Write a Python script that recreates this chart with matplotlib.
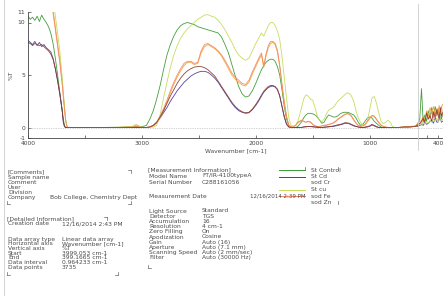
import matplotlib.pyplot as plt
from matplotlib.lines import Line2D

# wavenumber grid (cm-1), shared by all samples
wavenumber = ([4000, 3980, 3960, 3940, 3920, 3900, 3880, 3860, 3840, 3820, 3800, 3780, 3760, 3740,
               3720, 3700, 3690, 3680, 3670, 3660, 3650, 3400, 3200, 3080, 3050, 3020, 2990]
              + [2960, 2930, 2900, 2870, 2840, 2810, 2780, 2750, 2720, 2690, 2660, 2630, 2600, 2570,
                 2540, 2510, 2480, 2450, 2420, 2390, 2360, 2330, 2300, 2270, 2240, 2210, 2180, 2150,
                 2120, 2090, 2060, 2030, 2000,
                 1970, 1950, 1930, 1910, 1890, 1870, 1850, 1830, 1810, 1790, 1770, 1750, 1730, 1710]
              + [1690, 1670, 1650, 1630,
                 1600, 1580, 1560, 1540, 1520, 1500, 1480, 1460, 1440, 1420, 1400, 1380, 1360, 1340,
                 1320, 1300, 1280, 1260, 1240, 1220, 1200, 1180, 1160, 1140, 1120, 1100, 1080, 1060,
                 1040, 1020, 1000,
                 980, 960, 940, 920, 900, 880, 860, 840, 820, 800, 780,
                 750, 700, 650, 600]
              + [580, 560, 545, 530, 515, 500, 485, 470, 455, 440, 425, 410, 400, 390, 380, 370, 360])

st_control = ([10.6, 10.3, 10.5, 10.2, 10.6, 10.1, 10.7, 10.3, 10.0, 9.6, 9.0, 8.0, 6.6, 5.0, 3.3, 1.7,
               0.8, 0.2, 0.0, 0.0, 0.0, 0.0, 0.02, 0.05, 0.1, 0.05, 0.1]
              + [0.2, 0.8, 1.6, 2.7, 4.0, 5.5, 6.9, 7.9, 8.7, 9.3, 9.7, 9.9, 10.0, 9.9, 9.8, 9.6, 9.5,
                 9.4, 9.3, 9.2, 9.1, 9.0, 8.6, 7.9, 7.1, 6.0, 4.9, 3.9, 3.2, 2.9, 3.0, 3.5, 4.2,
                 5.0, 5.5, 5.9, 6.2, 6.4, 6.5, 6.5, 6.3, 5.8, 5.0, 3.6, 2.0, 0.8, 0.2]
              + [0.05, 0.0, 0.0, 0.1,
                 0.5, 0.9, 1.2, 1.35, 1.35, 1.3, 1.2, 1.0, 0.7, 0.4, 0.5, 0.9, 1.2, 1.1, 1.0, 1.0,
                 1.1, 1.3, 1.4, 1.45, 1.45, 1.4, 1.3, 1.2, 0.9, 0.5, 0.2, 0.3, 0.6, 0.9, 1.0,
                 0.9, 0.6, 0.4, 0.2, 0.05, 0.0, 0.0, 0.0, 0.0, 0.0, 0.0,
                 0.0, 0.05, 0.1, 0.1]
              + [0.3, 0.8, 3.7, 0.5, 1.2, 0.6, 1.6, 0.9, 1.9, 1.1, 2.0, 1.2, 1.8, 1.0, 1.5, 0.8, 1.2])

st_cd = ([8.3, 8.1, 7.9, 8.2, 7.8, 8.1, 7.7, 7.9, 7.6, 7.4, 7.2, 6.6, 5.6, 4.4, 3.1, 1.6,
          0.5, 0.1, 0.0, 0.0, 0.0, 0.0, 0.0, 0.0, 0.0, 0.0, 0.0]
         + [0.0, 0.05, 0.2, 0.5, 0.9, 1.4, 1.9, 2.5, 3.0, 3.5, 3.9, 4.3, 4.6, 4.9, 5.1, 5.25, 5.35,
            5.35, 5.25, 5.0, 4.7, 4.3, 3.8, 3.3, 2.8, 2.3, 1.9, 1.6, 1.45, 1.35, 1.4, 1.7, 2.1,
            2.6, 3.0, 3.35, 3.6, 3.8, 3.9, 3.95, 3.85, 3.6, 3.0, 2.0, 1.0, 0.3, 0.05]
         + [0.0, 0.0, 0.0, 0.0,
            0.0, 0.05, 0.05, 0.1, 0.1, 0.05, 0.05, 0.0, 0.0, 0.0, 0.0, 0.05, 0.05, 0.1, 0.1, 0.15,
            0.2, 0.25, 0.3, 0.4, 0.4, 0.35, 0.25, 0.15, 0.1, 0.05, 0.0, 0.0, 0.0, 0.05, 0.1,
            0.25, 0.15, 0.05, 0.0, 0.0, 0.0, 0.0, 0.0, 0.0, 0.0, 0.0,
            0.0, 0.0, 0.05, 0.1]
         + [0.1, 0.2, 0.3, 0.2, 0.5, 0.3, 0.4, 0.6, 0.7, 0.4, 0.9, 0.5, 0.5, 0.8, 1.0, 0.5, 0.6])

sod_cr = ([14, 14, 14, 14, 14, 14, 14, 14, 14, 14, 12.5, 11.2, 9.6, 8.0, 6.4, 4.4,
           3.2, 1.9, 0.8, 0.2, 0.0, 0.0, 0.02, 0.1, 0.25, 0.1, 0.0]
          + [0.0, 0.05, 0.15, 0.4, 0.9, 1.6, 2.4, 3.3, 4.1, 4.8, 5.4, 5.9, 6.2, 6.2, 6.0, 6.1, 7.1,
             7.7, 7.9, 7.7, 7.5, 7.2, 6.8, 6.2, 5.6, 5.0, 4.6, 4.3, 4.05, 3.95, 4.3, 5.1, 5.8,
             6.5, 6.9, 5.7, 6.8, 7.6, 8.0, 8.1, 7.9, 7.2, 5.8, 4.0, 2.3, 1.0, 0.2]
          + [0.05, 0.05, 0.2, 0.45,
             0.65, 0.6, 0.5, 0.55, 0.5, 0.3, 0.15, 0.1, 0.1, 0.15, 0.2, 0.2, 0.3, 0.35, 0.4, 0.55,
             0.75, 0.9, 1.05, 1.2, 1.3, 1.25, 1.05, 0.7, 0.4, 0.2, 0.1, 0.15, 0.3, 0.55, 0.85,
             1.1, 1.05, 0.75, 0.45, 0.2, 0.1, 0.05, 0.0, 0.0, 0.0, 0.0,
             0.0, 0.05, 0.1, 0.1]
          + [0.4, 0.6, 0.6, 1.1, 0.7, 1.6, 1.0, 1.9, 1.3, 2.0, 1.2, 1.8, 1.4, 2.1, 1.6, 1.9, 2.2])

st_cu = ([14, 14, 14, 14, 14, 14, 14, 14, 14, 14, 14, 12.8, 10.6, 9.0, 7.2, 4.8,
          3.4, 2.0, 0.8, 0.2, 0.0, 0.0, 0.02, 0.1, 0.3, 0.1, 0.0]
         + [0.0, 0.0, 0.05, 0.2, 1.2, 2.8, 4.3, 5.7, 6.9, 7.8, 8.5, 9.0, 9.4, 9.7, 10.0, 10.3, 10.5,
            10.7, 10.75, 10.6, 10.5, 10.2, 9.8, 9.3, 8.7, 8.1, 7.4, 6.9, 6.6, 6.4, 6.6, 7.3, 8.0,
            8.6, 9.0, 8.7, 9.2, 9.7, 10.0, 10.0, 9.7, 9.2, 8.4, 6.8, 4.8, 2.8, 0.9]
         + [0.2, 0.15, 0.2, 0.6,
            1.8, 2.7, 3.1, 3.0, 2.7, 2.6, 1.9, 1.1, 0.7, 0.55, 0.8, 1.3, 1.65, 1.8, 1.9, 2.2,
            2.5, 2.7, 2.9, 3.1, 3.3, 3.25, 3.0, 2.5, 1.6, 0.9, 0.5, 0.25, 0.2, 0.6, 1.7,
            2.8, 2.95, 2.3, 1.4, 0.6, 0.35, 0.5, 0.7, 0.5, 0.1, 0.0,
            0.0, 0.0, 0.05, 0.1]
         + [0.2, 0.3, 0.2, 0.5, 0.3, 0.6, 0.4, 0.7, 0.5, 0.8, 0.6, 0.9, 0.5, 0.7, 1.0, 0.6, 0.8])

sod_fe = ([14, 14, 14, 14, 14, 14, 14, 14, 14, 14, 12.2, 10.9, 9.3, 7.7, 6.1, 4.1,
           2.9, 1.7, 0.7, 0.15, 0.0, 0.0, 0.0, 0.05, 0.1, 0.05, 0.0]
          + [0.0, 0.05, 0.2, 0.5, 1.1, 1.8, 2.6, 3.5, 4.3, 5.0, 5.6, 6.1, 6.3, 6.3, 6.1, 6.2, 7.3,
             7.9, 8.0, 7.8, 7.6, 7.3, 6.9, 6.4, 5.8, 5.2, 4.8, 4.5, 4.2, 4.1, 4.5, 5.3, 6.0,
             6.7, 7.1, 5.9, 7.0, 7.8, 8.2, 8.2, 8.0, 7.4, 6.0, 4.2, 2.5, 1.1, 0.2]
          + [0.05, 0.05, 0.2, 0.5,
             0.7, 0.6, 0.5, 0.6, 0.55, 0.3, 0.15, 0.1, 0.1, 0.15, 0.2, 0.25, 0.3, 0.35, 0.45, 0.6,
             0.8, 0.95, 1.1, 1.25, 1.35, 1.3, 1.1, 0.75, 0.45, 0.2, 0.1, 0.15, 0.3, 0.6, 0.9,
             1.15, 1.1, 0.8, 0.5, 0.25, 0.1, 0.05, 0.0, 0.0, 0.0, 0.0,
             0.0, 0.05, 0.1, 0.15]
          + [0.3, 0.4, 0.4, 0.9, 0.6, 1.3, 0.8, 1.0, 1.5, 0.9, 1.5, 1.1, 1.7, 1.0, 1.4, 2.0, 1.2])

sod_zn = ([8.1, 8.0, 7.8, 8.0, 7.9, 7.8, 7.9, 7.7, 7.5, 7.3, 7.0, 6.5, 5.6, 4.5, 3.2, 1.6,
           0.6, 0.1, 0.0, 0.0, 0.0, 0.0, 0.0, 0.0, 0.0, 0.0, 0.0]
          + [0.0, 0.05, 0.2, 0.5, 1.0, 1.6, 2.3, 3.0, 3.6, 4.2, 4.7, 5.1, 5.4, 5.6, 5.75, 5.8, 5.8,
             5.7, 5.5, 5.2, 4.9, 4.4, 3.9, 3.4, 2.9, 2.4, 2.0, 1.7, 1.5, 1.4, 1.45, 1.75, 2.2,
             2.7, 3.1, 3.45, 3.7, 3.9, 4.0, 4.0, 3.9, 3.65, 3.05, 2.05, 1.05, 0.35, 0.05]
          + [0.0, 0.0, 0.0, 0.0,
             0.0, 0.05, 0.1, 0.1, 0.1, 0.1, 0.05, 0.05, 0.0, 0.0, 0.05, 0.05, 0.1, 0.1, 0.15, 0.2,
             0.25, 0.3, 0.35, 0.45, 0.45, 0.4, 0.3, 0.2, 0.1, 0.05, 0.0, 0.0, 0.05, 0.1, 0.15,
             0.3, 0.2, 0.1, 0.0, 0.0, 0.0, 0.0, 0.0, 0.0, 0.0, 0.0,
             0.0, 0.05, 0.05, 0.1]
          + [0.2, 0.4, 0.6, 0.9, 0.5, 1.4, 0.8, 1.1, 0.6, 1.5, 0.9, 1.7, 1.2, 0.8, 1.9, 1.1, 1.4])

sample_names = ["St Control", "St Cd", "sod Cr", "St cu", "sod Fe", "sod Zn"]
sample_values = [st_control, st_cd, sod_cr, st_cu, sod_fe, sod_zn]
sample_colors = ["#3b9a34", "#4a3c9e", "#f4a232", "#c2dc58", "#f08866", "#8e3b2c"]
legend_line_colors = ["#3b9a34", "#4a3c9e", None, "#c2dc58", "#f08866", None]

x_ticks = [4000, 3000, 2000, 1000, 400]
y_ticks = [-1, 0, 5, 10, 11]

comments = [("Sample name", ""), ("Comment", ""), ("User", ""), ("Division", ""),
            ("Company", "Bob College, Chemistry Dept")]
details = [("Data array type", "Linear data array"), ("Horizontal axis", "Wavenumber [cm-1]"),
           ("Vertical axis", "%T"), ("Start", "3999.053 cm-1"), ("End", "399.1665 cm-1"),
           ("Data interval", "0.964233 cm-1"), ("Data points", "3735")]
measurement = [("Light Source", "Standard"), ("Detector", "TGS"), ("Accumulation", "16"),
               ("Resolution", "4 cm-1"), ("Zero Filling", "On"), ("Apodization", "Cosine"),
               ("Gain", "Auto (16)"), ("Aperture", "Auto (7.1 mm)"),
               ("Scanning Speed", "Auto (2 mm/sec)"), ("Filter", "Auto (30000 Hz)")]

W, H = 443, 296
TXT = "#4a4a4a"
FS = 4.3


def fx(px):
    return px / W


def fy(py):
    return 1 - py / H


fig = plt.figure(figsize=(W / 100, H / 100), dpi=100)


def label(x, y, s, size=FS, **kw):
    fig.text(fx(x), fy(y), s, fontsize=size, color=TXT, va="center", ha="left", **kw)


def seg(x0, y0, x1, y1, color="#666666", lw=0.5):
    fig.add_artist(Line2D([fx(x0), fx(x1)], [fy(y0), fy(y1)], color=color, lw=lw))


# spectrum panel
ax = fig.add_axes([fx(28), fy(138), (W - 28) / W, 126 / H])
for name, vals, col in zip(sample_names, sample_values, sample_colors):
    ax.plot(wavenumber, vals, color=col, lw=0.6, alpha=0.95, label=name)
ax.axhline(0, color="#aaaaaa", lw=0.5, ls=(0, (1, 1.5)))
ax.set_xlim(4000, 356)
ax.set_ylim(-1, 11)
ax.set_xticks(x_ticks)
ax.set_xticklabels([str(t) for t in x_ticks])
ax.set_xticks([3500, 2500, 1500, 500], minor=True)
ax.set_yticks(y_ticks)
ax.set_yticklabels([str(t) for t in y_ticks])
ax.tick_params(axis="both", which="both", direction="in", labelsize=FS, colors="#444444",
               length=2.5, width=0.5, pad=2)
ax.tick_params(axis="x", which="minor", length=2)
for s in ("top", "right"):
    ax.spines[s].set_visible(False)
for s in ("left", "bottom"):
    ax.spines[s].set_linewidth(0.6)
    ax.spines[s].set_color("#444444")
ax.set_ylabel("%T", fontsize=FS, color=TXT, labelpad=2.5)
ax.set_xlabel("Wavenumber [cm-1]", fontsize=FS, color=TXT, labelpad=1.5)

# frame lines of the report page
seg(4, 0, 4, H, color="#cccccc", lw=0.6)
seg(418, 4, 418, 150, color="#cccccc", lw=0.6)

# [Comments] box
label(7, 172, "[Comments]")
for i, (k, v) in enumerate(comments):
    label(8, 177 + 5.2 * i, k)
    if v:
        label(50, 177 + 5.2 * i, v)
seg(7, 201, 7, 204)
seg(7, 204, 10, 204)
seg(128, 204, 131, 204)
seg(131, 204, 131, 201)
seg(128, 170, 131, 170)
seg(131, 170, 131, 173)

# [Detailed Information] box
label(7, 219, "[Detailed Information]")
label(8, 223.5, "Creation date")
label(62, 223.5, "12/16/2014 2:43 PM")
for i, (k, v) in enumerate(details):
    label(8, 239 + 4.7 * i, k)
    label(62, 239 + 4.7 * i, v)
seg(7, 272, 7, 275)
seg(7, 275, 10, 275)
seg(115, 275, 118, 275)
seg(118, 275, 118, 272)
seg(104, 217, 107, 217)
seg(107, 217, 107, 220)

# [Measurement Information] box
label(148, 170, "[Measurement Information]")
label(149, 176, "Model Name")
label(202, 176, "FT/IR-4100typeA")
label(149, 182, "Serial Number")
label(202, 182, "C288161056")
label(149, 197, "Measurement Date")
for i, (k, v) in enumerate(measurement):
    label(149, 211 + 5.2 * i, k)
    label(202, 211 + 5.2 * i, v)
seg(148, 265, 148, 268)
seg(148, 268, 151, 268)

# legend of samples
for i, (name, col) in enumerate(zip(sample_names, legend_line_colors)):
    y = 170 + 6.5 * i
    if col:
        seg(279, y, 305, y, color=col, lw=0.7)
    label(311, y, name)
label(250, 196.5, "12/16/2014 2:39 PM", size=4.0)
seg(305, 167, 305, 170)
seg(338, 167, 338, 170)
seg(338, 201, 338, 204)

fig.savefig("out.png", dpi=100)
